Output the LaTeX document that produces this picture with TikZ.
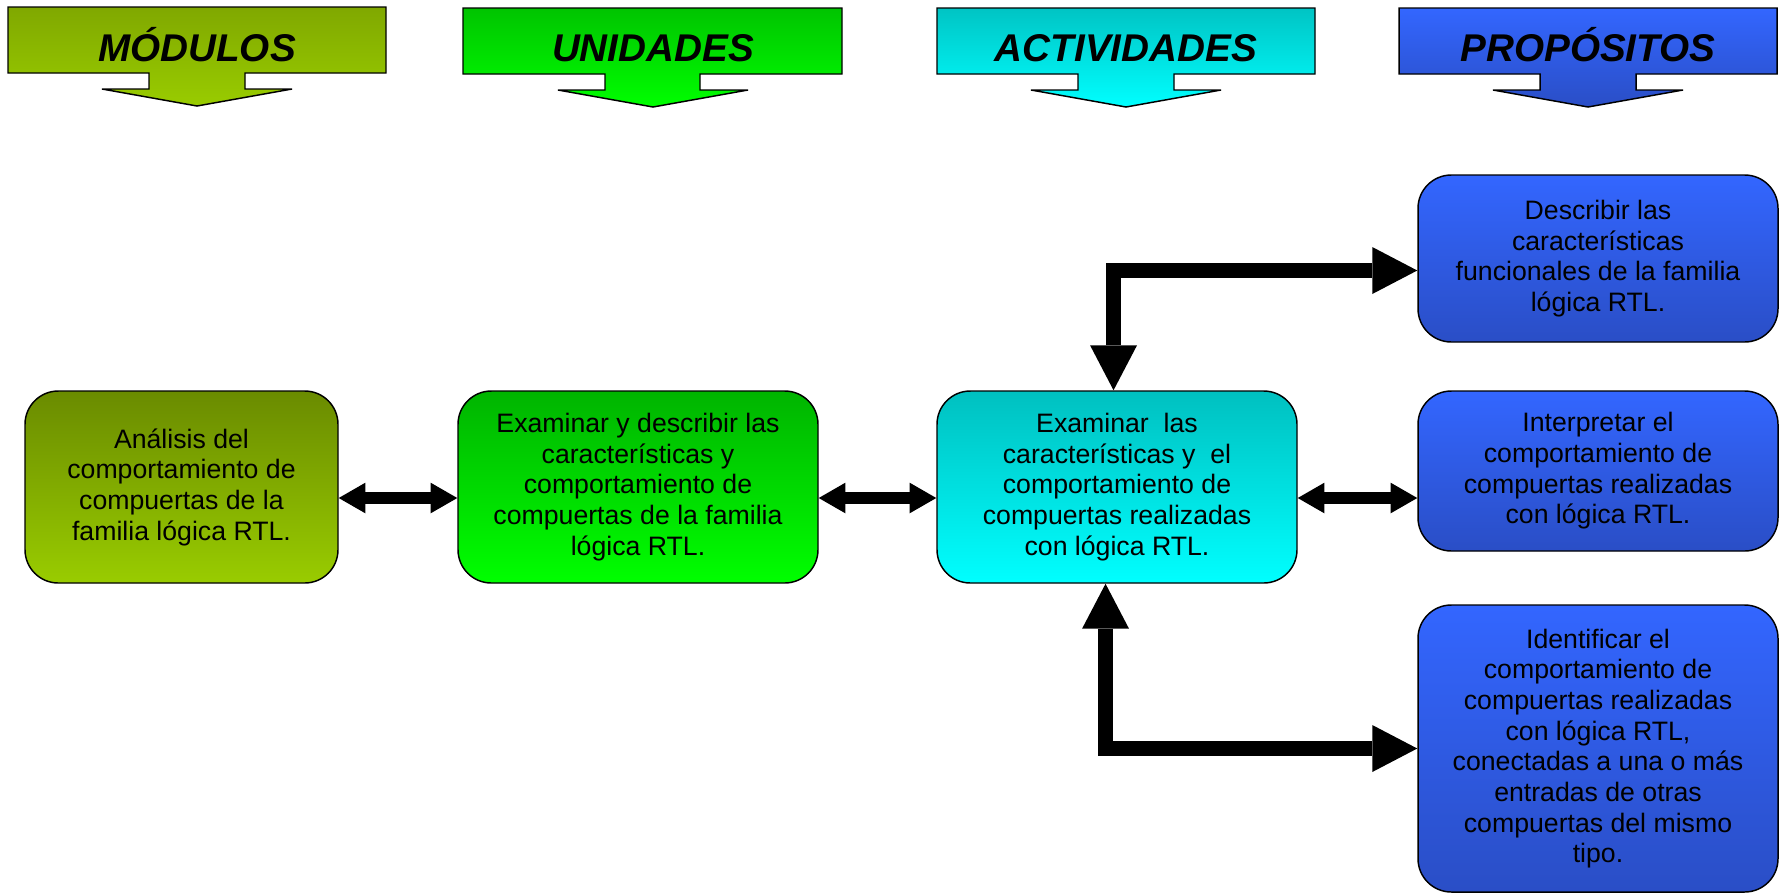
\documentclass[tikz,border=0pt]{standalone}
\usepackage{fontspec}
\setmainfont{Liberation Sans}
\usetikzlibrary{arrows.meta}
\definecolor{modtop}{HTML}{6A8B00}
\definecolor{modbot}{HTML}{99CC00}
\definecolor{unitop}{HTML}{00B400}
\definecolor{unibot}{HTML}{00FF00}
\definecolor{acttop}{HTML}{00C0C0}
\definecolor{actbot}{HTML}{00FFFF}
\definecolor{protop}{HTML}{3366FF}
\definecolor{probot}{HTML}{2A4EC6}
\definecolor{hmodtop}{HTML}{80A800}
\definecolor{hunitop}{HTML}{00C400}
\definecolor{hacttop}{HTML}{00C4C4}
\tikzset{
  box/.style={draw, line width=1.1pt, rounded corners=25pt, align=center, inner sep=0pt,
    font=\fontsize{20}{23}\selectfont},
  hdshape/.style={draw, line width=1.1pt},
  hdtext/.style={anchor=base, font=\fontsize{29}{32}\selectfont\bfseries\itshape},
  dblarrow/.style={line width=9pt,
    {Triangle[length=20pt,width=23pt,line width=0pt]}-{Triangle[length=20pt,width=23pt,line width=0pt]}},
  elbarrow/.style={line width=11.25pt,
    {Triangle[length=33.75pt,width=35.25pt,line width=0pt]}-{Triangle[length=33.75pt,width=35.25pt,line width=0pt]}}
}
\begin{document}
\begin{tikzpicture}[x=0.75pt,y=-0.75pt]
  \path[use as bounding box, fill=white] (0,0) rectangle (1781,894);

  % column headers
  \shade[hdshape, top color=hmodtop, bottom color=modbot] (8,7) -- (386,7) -- (386,73) -- (245,73) -- (245,89) -- (292,89) -- (197,106) -- (102,89) -- (149,89) -- (149,73) -- (8,73) -- cycle;
  \shade[hdshape, top color=hunitop, bottom color=unibot] (463,8) -- (842,8) -- (842,74) -- (700,74) -- (700,90) -- (748,90) -- (653,107) -- (558,90) -- (605,90) -- (605,74) -- (463,74) -- cycle;
  \shade[hdshape, top color=hacttop, bottom color=actbot] (937,8) -- (1315,8) -- (1315,74) -- (1174,74) -- (1174,90) -- (1221,90) -- (1126,107) -- (1031,90) -- (1078,90) -- (1078,74) -- (937,74) -- cycle;
  \shade[hdshape, top color=protop, bottom color=probot] (1399,8) -- (1777,8) -- (1777,74) -- (1636,74) -- (1636,90) -- (1683,90) -- (1588,107) -- (1493,90) -- (1540,90) -- (1540,74) -- (1399,74) -- cycle;
  \node[hdtext] (hmod) at (197,61) {MÓDULOS};
  \node[hdtext] (huni) at (653,61) {UNIDADES};
  \node[hdtext] (hact) at (1126,61) {ACTIVIDADES};
  \node[hdtext] (hpro) at (1588,61) {PROPÓSITOS};

  % boxes
  \node[box, top color=modtop, bottom color=modbot, minimum width=234.75pt, minimum height=144pt] (mod) at (181.5,487)
    {Análisis del\\comportamiento de\\compuertas de la\\familia lógica RTL.};
  \node[box, top color=unitop, bottom color=unibot, minimum width=270pt, minimum height=144pt] (uni) at (638,487)
    {Examinar y describir las\\características y\\comportamiento de\\compuertas de la familia\\lógica RTL.};
  \node[box, top color=acttop, bottom color=actbot, minimum width=270pt, minimum height=144pt] (act) at (1117,487)
    {Examinar~ las\\características y~ el\\comportamiento de\\compuertas realizadas\\con lógica RTL.};
  \node[box, top color=protop, bottom color=probot, minimum width=270pt, minimum height=125.25pt] (pro1) at (1598,258.5)
    {Describir las\\características\\funcionales de la familia\\lógica RTL.};
  \node[box, top color=protop, bottom color=probot, minimum width=270pt, minimum height=120pt] (pro2) at (1598,471)
    {Interpretar el\\comportamiento de\\compuertas realizadas\\con lógica RTL.};
  \node[box, top color=protop, bottom color=probot, minimum width=270pt, minimum height=215.25pt] (pro3) at (1598,748.5)
    {Identificar el\\comportamiento de\\compuertas realizadas\\con lógica RTL,\\conectadas a una o más\\entradas de otras\\compuertas del mismo\\tipo.};

  % connectors
  \draw[dblarrow] ([yshift=-8.25pt]mod.east) -- ([yshift=-8.25pt]uni.west);
  \draw[dblarrow] ([yshift=-8.25pt]uni.east) -- ([yshift=-8.25pt]act.west);
  \draw[dblarrow] ([yshift=-8.25pt]act.east) -- ([yshift=-8.25pt]act.east -| pro2.west);
  \draw[elbarrow] ([xshift=-2.6pt]act.north) |- ([yshift=-9pt]pro1.west);
  \draw[elbarrow] ([xshift=-8.6pt]act.south) |- (pro3.west);
\end{tikzpicture}
\end{document}
